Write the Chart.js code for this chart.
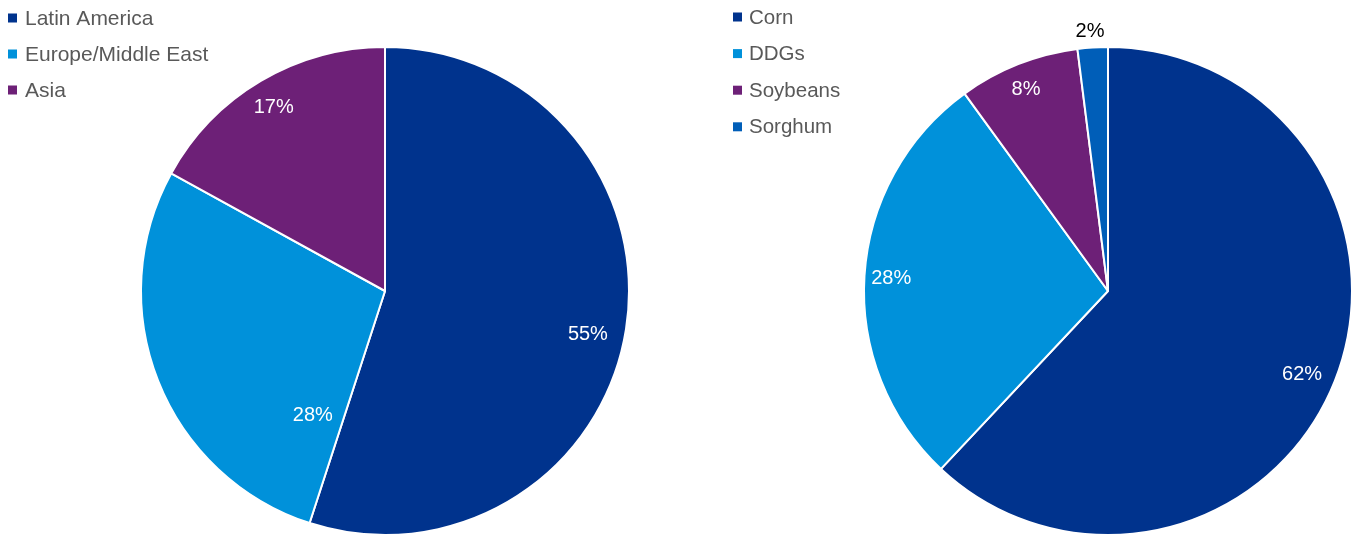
<!DOCTYPE html>
<html>
<head>
<meta charset="utf-8">
<script src="https://cdn.jsdelivr.net/npm/chart.js@4.4.1/dist/chart.umd.min.js"></script>
<style>
html,body{margin:0;padding:0;background:#fff;}
#wrap{position:relative;width:1359px;height:537px;overflow:hidden;}
#c1{position:absolute;left:0;top:0;}
#c2{position:absolute;left:680px;top:0;}
</style>
</head>
<body>
<div id="wrap">
<canvas id="c1" width="700" height="537"></canvas>
<canvas id="c2" width="679" height="537"></canvas>
</div>
<script>
// Data
const regionLabels = ["Latin America", "Europe/Middle East", "Asia"];
const regionValues = [55, 28, 17];
const productLabels = ["Corn", "DDGs", "Soybeans", "Sorghum"];
const productValues = [62, 28, 8, 2];

const regionColors = ["#00338D", "#0091DA", "#6D2077"];
const productColors = ["#00338D", "#0091DA", "#6D2077", "#005EB8"];

const FONT = "'Liberation Sans', Arial, sans-serif";

const pieLabels = {
  id: 'pieLabels',
  afterDatasetsDraw(chart, args, opts) {
    const ctx = chart.ctx;
    const meta = chart.getDatasetMeta(0);
    const ds = chart.data.datasets[0];
    const total = ds.data.reduce((a, b) => a + b, 0);
    ctx.save();
    ctx.font = opts.font;
    ctx.textAlign = 'center';
    ctx.textBaseline = 'middle';
    meta.data.forEach((arc, i) => {
      const p = arc.getProps(['x', 'y', 'startAngle', 'endAngle', 'outerRadius'], true);
      const t = opts.t[i], rf = opts.r[i];
      const a = p.startAngle + t * (p.endAngle - p.startAngle);
      const x = p.x + Math.cos(a) * p.outerRadius * rf;
      const y = p.y + Math.sin(a) * p.outerRadius * rf;
      ctx.fillStyle = opts.colors[i];
      ctx.fillText(Math.round(ds.data[i] / total * 100) + '%', x, y);
    });
    ctx.restore();
  }
};

const sideLegend = {
  id: 'sideLegend',
  afterDraw(chart, args, opts) {
    const ctx = chart.ctx;
    const ds = chart.data.datasets[0];
    ctx.save();
    ctx.font = opts.font;
    ctx.textBaseline = 'middle';
    ctx.textAlign = 'left';
    chart.data.labels.forEach((lab, i) => {
      const y = opts.y + i * opts.spacing;
      ctx.fillStyle = ds.backgroundColor[i];
      ctx.fillRect(opts.x, y - opts.box / 2, opts.box, opts.box);
      ctx.fillStyle = opts.color;
      ctx.fillText(lab, opts.x + opts.box + opts.gap, y + 1);
    });
    ctx.restore();
  }
};

function makePie(id, labels, values, colors, padding, labelOpts, legendOpts) {
  return new Chart(document.getElementById(id), {
    type: 'pie',
    data: {
      labels: labels,
      datasets: [{
        data: values,
        backgroundColor: colors,
        borderColor: '#ffffff',
        borderWidth: 2
      }]
    },
    options: {
      responsive: false,
      animation: false,
      layout: { padding: padding },
      plugins: {
        legend: { display: false },
        tooltip: { enabled: false },
        pieLabels: labelOpts,
        sideLegend: legendOpts
      }
    },
    plugins: [pieLabels, sideLegend]
  });
}

makePie('c1', regionLabels, regionValues, regionColors,
  { left: 140, right: 70, top: 46, bottom: 1 },
  { font: '20px ' + FONT, t: [0.515, 0.12, 0.49], r: [0.85, 0.59, 0.88], colors: ['#fff', '#fff', '#fff'] },
  { x: 8, y: 18, spacing: 36, box: 9, gap: 8, font: '21px ' + FONT, color: '#595959' });

makePie('c2', productLabels, productValues, productColors,
  { left: 183, right: 6, top: 46, bottom: 1 },
  { font: '20px ' + FONT, t: [0.507, 0.496, 0.48, 0.45], r: [0.865, 0.89, 0.89, 1.065], colors: ['#fff', '#fff', '#fff', '#000'] },
  { x: 53, y: 17, spacing: 36.6, box: 9, gap: 7, font: '20.5px ' + FONT, color: '#595959' });
</script>
</body>
</html>
